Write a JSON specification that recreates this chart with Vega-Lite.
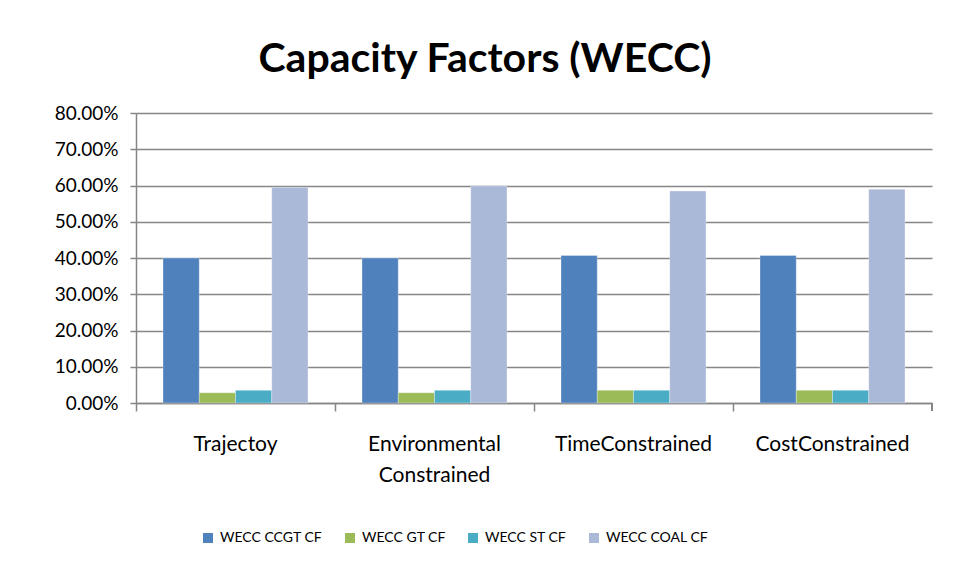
{
  "$schema": "https://vega.github.io/schema/vega-lite/v6.json",
  "autosize": {"type": "none"},
  "width": 796,
  "height": 290,
  "padding": {"left": 136, "top": 113, "right": 28, "bottom": 166},
  "background": "white",
  "title": {
    "text": "Capacity Factors (WECC)",
    "font": "Lato",
    "fontSize": 41,
    "fontWeight": "bold",
    "color": "black",
    "anchor": "middle",
    "dx": -49,
    "offset": 23
  },
  "data": {
    "values": [
      {"scenario": "Trajectoy", "series": "WECC CCGT CF", "value": 0.400},
      {"scenario": "Trajectoy", "series": "WECC GT CF", "value": 0.028},
      {"scenario": "Trajectoy", "series": "WECC ST CF", "value": 0.035},
      {"scenario": "Trajectoy", "series": "WECC COAL CF", "value": 0.595},
      {"scenario": "Environmental Constrained", "series": "WECC CCGT CF", "value": 0.400},
      {"scenario": "Environmental Constrained", "series": "WECC GT CF", "value": 0.028},
      {"scenario": "Environmental Constrained", "series": "WECC ST CF", "value": 0.035},
      {"scenario": "Environmental Constrained", "series": "WECC COAL CF", "value": 0.599},
      {"scenario": "TimeConstrained", "series": "WECC CCGT CF", "value": 0.407},
      {"scenario": "TimeConstrained", "series": "WECC GT CF", "value": 0.035},
      {"scenario": "TimeConstrained", "series": "WECC ST CF", "value": 0.035},
      {"scenario": "TimeConstrained", "series": "WECC COAL CF", "value": 0.585},
      {"scenario": "CostConstrained", "series": "WECC CCGT CF", "value": 0.407},
      {"scenario": "CostConstrained", "series": "WECC GT CF", "value": 0.035},
      {"scenario": "CostConstrained", "series": "WECC ST CF", "value": 0.035},
      {"scenario": "CostConstrained", "series": "WECC COAL CF", "value": 0.590}
    ]
  },
  "layer": [
    {
      "mark": {"type": "bar", "stroke": "white", "strokeWidth": 0.5, "strokeOpacity": 0.6},
      "encoding": {
        "x": {
          "field": "scenario",
          "type": "nominal",
          "sort": ["Trajectoy", "Environmental Constrained", "TimeConstrained", "CostConstrained"],
          "scale": {"paddingInner": 0, "paddingOuter": 0},
          "axis": {
            "title": null,
            "labelAngle": 0,
            "labelFont": "Lato",
            "labelFontSize": 21,
            "labelColor": "black",
            "labelPadding": 22,
            "labelLineHeight": 31,
            "labelBaseline": "top",
            "labelExpr": "split(datum.label, ' ')",
            "bandPosition": 0,
            "tickSize": 8,
            "tickColor": "#868686",
            "tickWidth": 1.5,
            "domainColor": "#868686",
            "domainWidth": 1.5
          }
        },
        "xOffset": {
          "field": "series",
          "type": "nominal",
          "sort": ["WECC CCGT CF", "WECC GT CF", "WECC ST CF", "WECC COAL CF"],
          "scale": {"paddingInner": 0, "paddingOuter": 0.745}
        },
        "y": {
          "field": "value",
          "type": "quantitative",
          "scale": {"domain": [0, 0.8], "nice": false},
          "axis": {
            "title": null,
            "format": ".2%",
            "values": [0, 0.1, 0.2, 0.3, 0.4, 0.5, 0.6, 0.7, 0.8],
            "labelFont": "Lato",
            "labelFontSize": 19,
            "labelColor": "black",
            "labelPadding": 12,
            "labelOverlap": false,
            "tickSize": 6,
            "tickColor": "#868686",
            "tickWidth": 1.5,
            "domainColor": "#868686",
            "domainWidth": 1.5,
            "grid": true,
            "gridColor": "#868686",
            "gridWidth": 1.5
          }
        },
        "color": {
          "field": "series",
          "type": "nominal",
          "sort": ["WECC CCGT CF", "WECC GT CF", "WECC ST CF", "WECC COAL CF"],
          "scale": {
            "domain": ["WECC CCGT CF", "WECC GT CF", "WECC ST CF", "WECC COAL CF"],
            "range": ["#4F81BD", "#9BBB59", "#4BACC6", "#AAB9D7"]
          },
          "legend": {
            "title": null,
            "orient": "none",
            "legendX": 65,
            "legendY": 418,
            "direction": "horizontal",
            "symbolType": "square",
            "symbolSize": 100,
            "symbolStrokeWidth": 0,
            "labelFont": "Lato",
            "labelFontSize": 14,
            "labelColor": "black",
            "labelOffset": 5,
            "columnPadding": 20
          }
        }
      }
    },
    {
      "mark": {"type": "rule", "color": "#868686", "strokeWidth": 1.5},
      "encoding": {
        "x": {"datum": "CostConstrained", "type": "nominal", "bandPosition": 1},
        "y": {
          "datum": 0,
          "type": "quantitative",
          "axis": {
            "title": null,
            "format": ".2%",
            "values": [0, 0.1, 0.2, 0.3, 0.4, 0.5, 0.6, 0.7, 0.8],
            "labelFont": "Lato",
            "labelFontSize": 19,
            "labelColor": "black",
            "labelPadding": 12,
            "labelOverlap": false,
            "tickSize": 6,
            "tickColor": "#868686",
            "tickWidth": 1.5,
            "domainColor": "#868686",
            "domainWidth": 1.5,
            "grid": true,
            "gridColor": "#868686",
            "gridWidth": 1.5
          }
        },
        "y2": {"datum": -0.022}
      }
    }
  ],
  "config": {"view": {"stroke": null}}
}
